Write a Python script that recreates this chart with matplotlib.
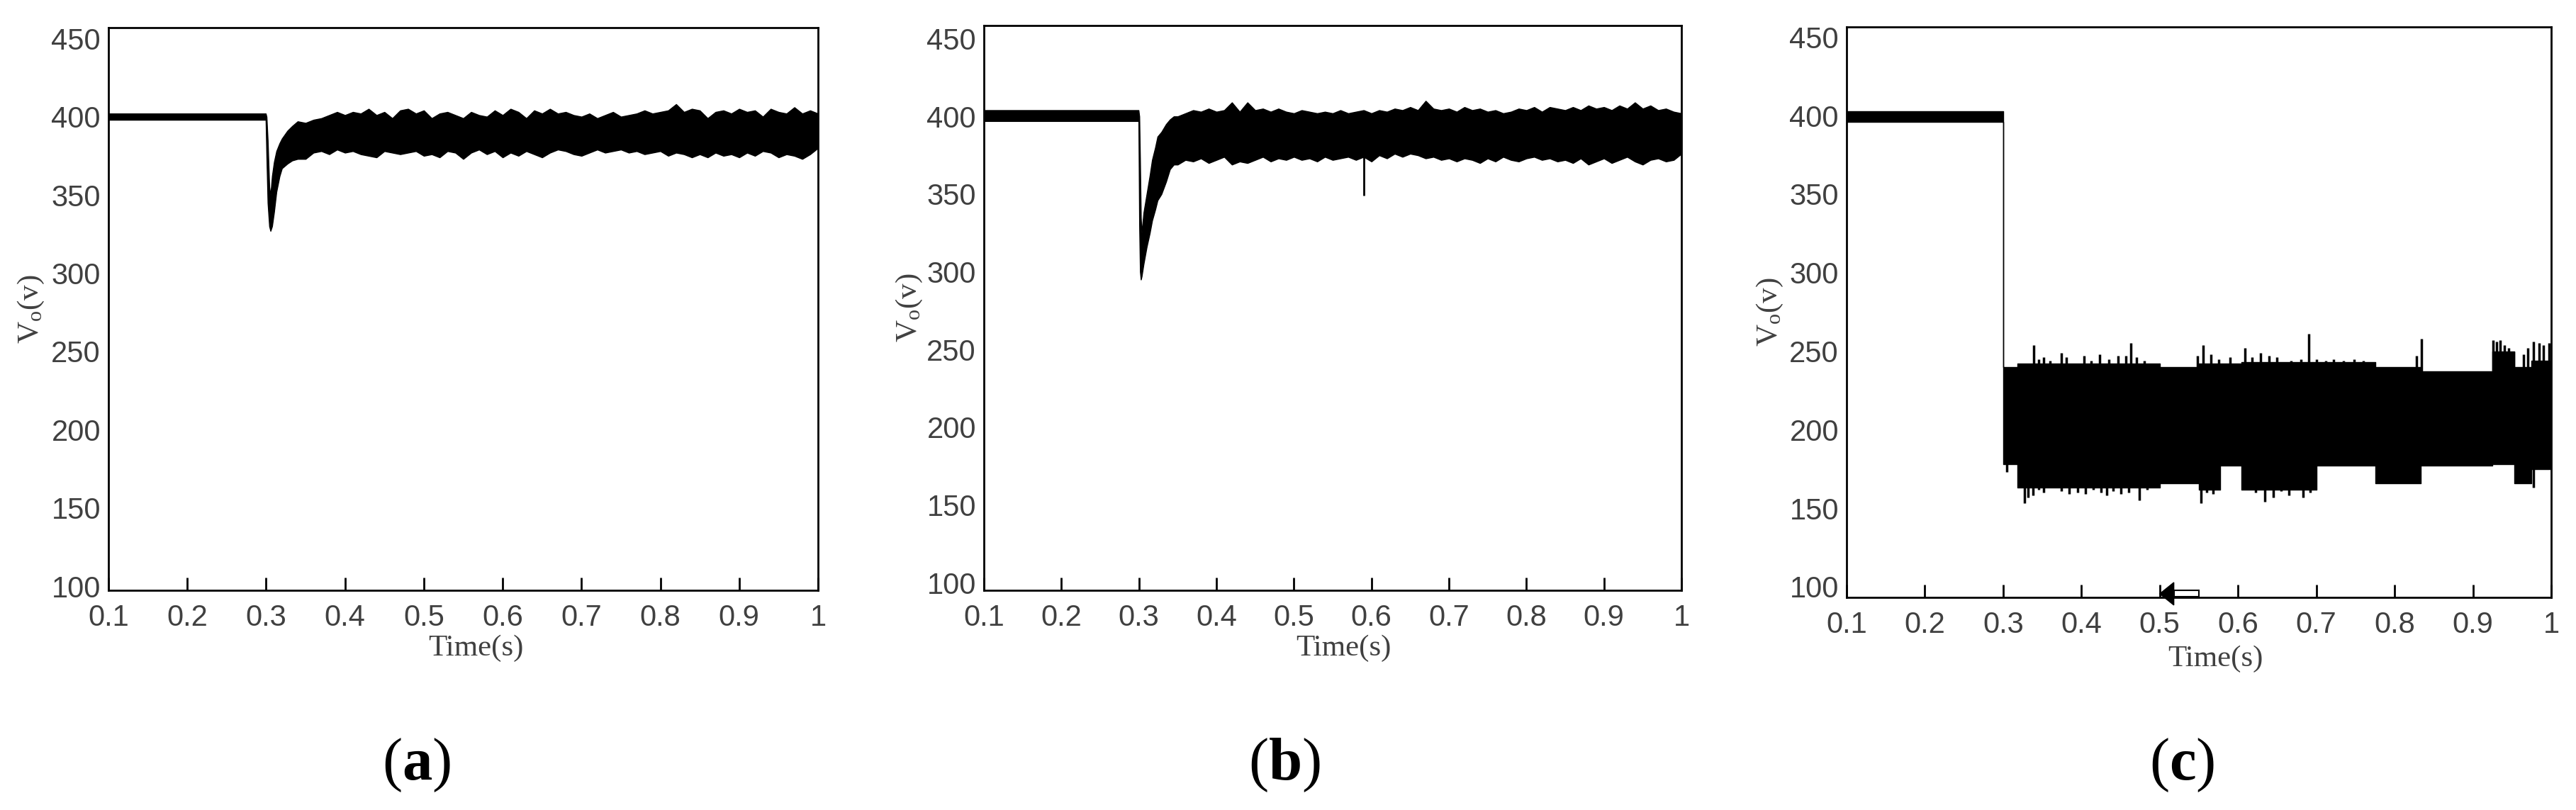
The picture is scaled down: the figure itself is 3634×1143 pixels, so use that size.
#!/usr/bin/env python3
"""Output voltage Vo under three controllers: (a), (b), (c) side by side."""

import matplotlib
matplotlib.use("Agg")
import matplotlib.pyplot as plt
import numpy as np
from matplotlib.patches import Polygon, Rectangle

plt.rcParams["font.family"] = ["Liberation Sans", "DejaVu Sans"]
plt.rcParams["mathtext.fontset"] = "custom"
plt.rcParams["mathtext.rm"] = "Liberation Serif"
plt.rcParams["mathtext.bf"] = "Liberation Serif:bold"
plt.rcParams["mathtext.it"] = "Liberation Serif:italic"

TEXT_GREY = "#404040"

X_TICKS = [0.1, 0.2, 0.3, 0.4, 0.5, 0.6, 0.7, 0.8, 0.9, 1.0]
X_TICK_LABELS = ["0.1", "0.2", "0.3", "0.4", "0.5", "0.6", "0.7", "0.8", "0.9", "1"]
Y_TICKS = [100, 150, 200, 250, 300, 350, 400, 450]
Y_TICK_LABELS = ["100", "150", "200", "250", "300", "350", "400", "450"]

# steady-state sampling instants (0.35 s .. 1.00 s, every 10 ms)
T_STEADY = np.round(np.arange(0.35, 1.0001, 0.01), 2)

# ---- panel (a): flat 400 V, dip at 0.3 s, then noisy band ----
A_DIP_T = [0.100, 0.2995, 0.3005, 0.3020, 0.3040, 0.3055, 0.3075, 0.3100,
           0.3130, 0.3170, 0.3200, 0.3270, 0.3330, 0.3400]
A_DIP_UP = [402, 402, 400, 385, 355, 350, 362, 371, 378, 383, 386, 391, 394, 397]
A_DIP_LO = [398, 398, 375, 345, 330, 327, 330, 339, 352, 362, 367, 370, 372, 373]
A_UP = [396, 398, 399, 401, 403, 401, 403, 402, 405, 401, 403, 399, 404, 405,
        402, 404, 399, 402, 403, 401, 399, 403, 401, 400, 404, 401, 405, 403,
        399, 404, 402, 405, 402, 403, 401, 400, 402, 399, 401, 403, 400, 401,
        402, 404, 402, 403, 404, 408, 403, 405, 404, 399, 403, 404, 402, 405,
        403, 404, 400, 405, 403, 402, 406, 402, 404, 402]
A_LO = [373, 377, 378, 376, 379, 377, 378, 376, 375, 374, 378, 377, 376, 377,
        378, 375, 376, 374, 378, 377, 373, 377, 379, 376, 378, 374, 377, 375,
        378, 376, 374, 377, 379, 378, 376, 375, 377, 379, 377, 378, 379, 377,
        378, 376, 377, 378, 375, 377, 376, 374, 376, 374, 377, 375, 376, 374,
        377, 375, 378, 377, 374, 376, 375, 373, 376, 380]

# ---- panel (b): deeper dip, ragged recovery, one notch near 0.59 s ----
B_DIP_T = [0.100, 0.2995, 0.3005, 0.3015, 0.3025, 0.3035, 0.3060, 0.3100,
           0.3140, 0.3170, 0.3210, 0.3240, 0.3290, 0.3350, 0.3400, 0.3450]
B_DIP_UP = [404, 404, 400, 370, 335, 325, 338, 350, 362, 372, 380, 387, 390,
            395, 398, 400]
B_DIP_LO = [397, 397, 330, 300, 295, 297, 305, 316, 325, 333, 340, 346, 350,
            358, 366, 369]
B_UP = [400, 402, 404, 403, 405, 403, 404, 409, 403, 409, 404, 405, 403, 405,
        403, 402, 404, 403, 402, 403, 402, 404, 402, 403, 404, 402, 404, 403,
        405, 404, 406, 404, 410, 405, 404, 405, 403, 406, 404, 405, 403, 404,
        402, 403, 405, 404, 406, 403, 406, 405, 404, 406, 404, 407, 405, 406,
        404, 407, 405, 409, 405, 407, 404, 405, 403, 402]
B_LO = [369, 372, 371, 373, 370, 372, 374, 369, 371, 370, 372, 374, 371, 373,
        372, 374, 372, 373, 371, 374, 372, 373, 374, 372, 374, 371, 375, 373,
        376, 374, 376, 375, 373, 374, 372, 373, 371, 373, 372, 370, 373, 371,
        374, 372, 371, 373, 374, 372, 373, 371, 372, 370, 373, 369, 371, 373,
        370, 372, 374, 371, 369, 372, 373, 371, 372, 376]
B_NOTCH_T = [0.590]
B_NOTCH_V = [349]

# ---- panel (c): collapse to a wide ~210 V band after 0.3 s ----
C_T = [0.100, 0.3005, 0.318, 0.500, 0.550, 0.577, 0.604, 0.700, 0.775,
       0.833, 0.925, 0.953, 0.975, 1.000]
C_UP = [403, 240, 242, 240, 242, 242, 243, 243, 240, 237, 250, 240, 244, 244]
C_LO = [396, 178, 163, 166, 162, 177, 162, 177, 166, 177, 178, 166, 175, 175]
C_SPIKE_UP_T = [0.339, 0.345, 0.352, 0.360, 0.374, 0.381, 0.403, 0.412, 0.423,
                0.435, 0.447, 0.457, 0.463, 0.470, 0.480, 0.548, 0.555, 0.565,
                0.575, 0.590, 0.609, 0.618, 0.629, 0.640, 0.650, 0.668, 0.680,
                0.690, 0.700, 0.712, 0.722, 0.735, 0.748, 0.760, 0.828, 0.834,
                0.926, 0.930, 0.935, 0.940, 0.946, 0.952, 0.965, 0.970, 0.977,
                0.985, 0.990, 0.997]
C_SPIKE_UP_V = [254, 245, 246, 244, 249, 246, 247, 244, 248, 245, 247, 247,
                255, 246, 244, 247, 254, 248, 245, 246, 252, 246, 249, 247,
                246, 244, 245, 261, 245, 244, 245, 244, 245, 244, 247, 258,
                257, 256, 257, 254, 252, 250, 248, 252, 256, 255, 254, 255]
C_SPIKE_DN_T = [0.305, 0.327, 0.332, 0.338, 0.345, 0.352, 0.362, 0.374, 0.384,
                0.395, 0.405, 0.415, 0.425, 0.432, 0.440, 0.450, 0.460, 0.474,
                0.484, 0.553, 0.560, 0.568, 0.612, 0.622, 0.634, 0.645, 0.655,
                0.665, 0.675, 0.683, 0.692, 0.977]
C_SPIKE_DN_V = [173, 153, 157, 158, 162, 160, 163, 161, 159, 160, 159, 162,
                160, 158, 161, 159, 160, 155, 162, 153, 160, 159, 162, 160,
                154, 157, 161, 158, 162, 157, 160, 163]


def draw_band(ax, t, upper, lower, step=None):
    ax.fill_between(t, lower, upper, step=step, facecolor="black",
                    edgecolor="black", linewidth=1.0)


def style_axes(ax, ylim, xlabel_pos, ylabel_x):
    ax.set_xlim(0.1, 1.0)
    ax.set_ylim(*ylim)
    ax.set_xticks(X_TICKS)
    ax.set_xticklabels(X_TICK_LABELS)
    ax.set_yticks(Y_TICKS)
    ax.set_yticklabels(Y_TICK_LABELS)
    ax.tick_params(axis="x", direction="in", length=13, width=2, pad=14,
                   labelsize=30, labelcolor=TEXT_GREY)
    ax.tick_params(axis="y", length=0, pad=8, labelsize=30,
                   labelcolor=TEXT_GREY)
    for spine in ax.spines.values():
        spine.set_linewidth(2)
    ax.text(xlabel_pos[0], xlabel_pos[1], "Time(s)", transform=ax.transAxes,
            ha="center", va="center", family="Liberation Serif", fontsize=31,
            color=TEXT_GREY)
    ax.text(ylabel_x, 0.5, r"V$_{\mathrm{o}}$(v)", transform=ax.transAxes,
            rotation=90, ha="center", va="center", family="Liberation Serif",
            fontsize=31, color=TEXT_GREY)


def main() -> None:
    fig = plt.figure(figsize=(36.34, 11.43), dpi=100)

    # (a)
    ax_a = fig.add_axes([0.04210, 0.27122, 0.27545, 0.69466])
    draw_band(ax_a, A_DIP_T + list(T_STEADY), A_DIP_UP + A_UP, A_DIP_LO + A_LO)
    style_axes(ax_a, (97.3, 456.9), (0.518, -0.103), -0.109)

    # (b)
    ax_b = fig.add_axes([0.38195, 0.27122, 0.27078, 0.69729])
    draw_band(ax_b, B_DIP_T + list(T_STEADY), B_DIP_UP + B_UP, B_DIP_LO + B_LO)
    ax_b.vlines(B_NOTCH_T, 380, B_NOTCH_V, color="black", linewidth=2)
    style_axes(ax_b, (95.0, 458.5), (0.516, -0.103), -0.107)

    # (c)
    ax_c = fig.add_axes([0.71684, 0.26247, 0.27353, 0.70429])
    draw_band(ax_c, C_T, C_UP, C_LO, step="post")
    ax_c.vlines(C_SPIKE_UP_T, 210, C_SPIKE_UP_V, color="black", linewidth=2.5)
    ax_c.vlines(C_SPIKE_DN_T, 210, C_SPIKE_DN_V, color="black", linewidth=2.5)
    style_axes(ax_c, (93.2, 456.5), (0.524, -0.108), -0.109)

    # small left-pointing marker sitting on the time axis of (c)
    y0 = 95.5
    head = Polygon([(0.500, y0), (0.518, y0 + 7.2), (0.518, y0 - 7.2)],
                   closed=True, facecolor="black", edgecolor="black",
                   clip_on=False, zorder=5)
    shaft = Rectangle((0.518, y0 - 2.0), 0.032, 4.0, facecolor="white",
                      edgecolor="black", linewidth=1.5, clip_on=False, zorder=5)
    ax_c.add_patch(shaft)
    ax_c.add_patch(head)

    for x, letter in [(0.1618, "a"), (0.4986, "b"), (0.8470, "c")]:
        fig.text(x, 0.0551, r"($\mathbf{%s}$)" % letter, ha="center",
                 va="center", family="Liberation Serif", fontsize=61)

    fig.savefig("out.png", dpi=100)


if __name__ == "__main__":
    main()
